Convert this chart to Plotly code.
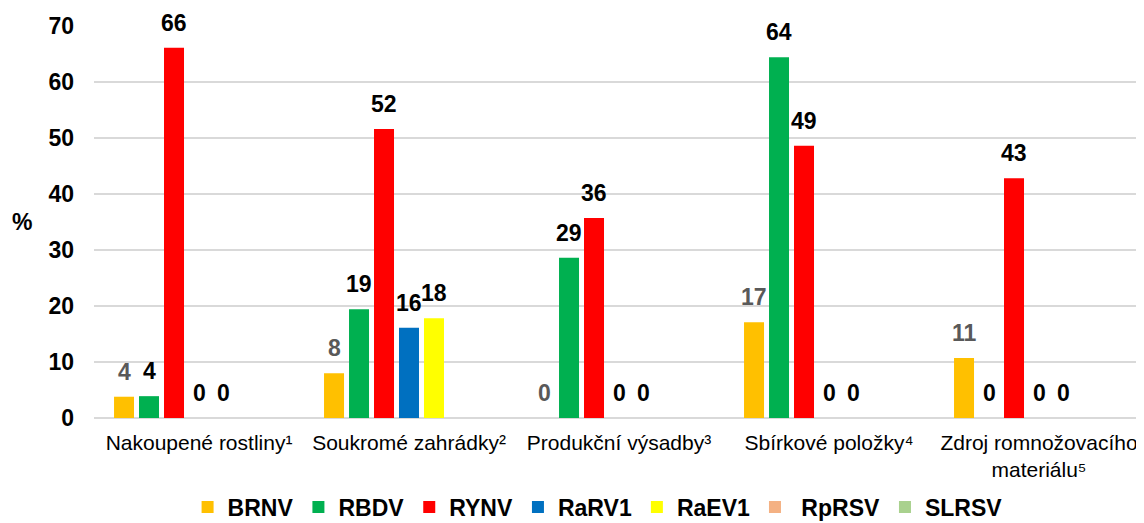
import plotly.graph_objects as go

# Categories (x axis)
categories = [
    "Nakoupené rostliny¹",
    "Soukromé zahrádky²",
    "Produkční výsadby³",
    "Sbírkové položky⁴",
    "Zdroj romnožovacího<br>materiálu⁵",
]

# Series values in % (None = no bar and no label)
brnv = [3.8, 8.0, 0, 17.1, 10.7]
rbdv = [3.9, 19.4, 28.6, 64.4, 0]
rynv = [66.1, 51.6, 35.7, 48.6, 42.8]
rarv1 = [0, 16.1, 0, 0, 0]
raev1 = [0, 17.8, 0, 0, 0]
rprsv = [None, None, None, None, None]
slrsv = [None, None, None, None, None]

series_names = ["BRNV", "RBDV", "RYNV", "RaRV1", "RaEV1", " RpRSV", "SLRSV"]
series_values = [brnv, rbdv, rynv, rarv1, raev1, rprsv, slrsv]
colors = ["#FFC000", "#00B050", "#FF0000", "#0070C0", "#FFFF00", "#F4B183", "#A9D18E"]
label_colors = ["#595959", "black", "black", "black", "black", "black", "black"]

y_ticks = [0, 10, 20, 30, 40, 50, 60, 70]

FONT = "Liberation Sans, Arial, sans-serif"
# the page body has an 8px default margin, so the figure is drawn 8px smaller
BODY = 8
WIDTH, HEIGHT = 1144 - BODY, 523 - BODY
MARGIN = dict(l=94 - BODY, r=0, t=26 - BODY, b=105)
BARGAP = 0.167
BARGROUPGAP = 0.2

fig = go.Figure()

for name, vals, col in zip(series_names, series_values, colors):
    fig.add_trace(
        go.Bar(
            x=categories,
            y=vals,
            name=name,
            marker=dict(color=col, line=dict(width=0)),
        )
    )

# bar labels above each bar (pixel offset of each bar inside its group)
plot_w = WIDTH - MARGIN["l"] - MARGIN["r"]
pitch = plot_w / len(categories) * (1 - BARGAP) / len(series_names)
n_mid = (len(series_names) - 1) / 2

annotations = []
for i, vals in enumerate(series_values):
    for cat, v in zip(categories, vals):
        if v is None:
            continue
        annotations.append(
            dict(
                x=cat,
                y=v,
                xref="x",
                yref="y",
                text=f"<b>{round(v)}</b>",
                showarrow=False,
                xanchor="center",
                yanchor="bottom",
                xshift=(i - n_mid) * pitch,
                yshift=10,
                font=dict(family=FONT, size=23, color=label_colors[i]),
            )
        )

annotations.append(
    dict(
        x=0,
        y=0.5,
        xref="paper",
        yref="paper",
        xanchor="center",
        yanchor="middle",
        xshift=-72,
        text="<b>%</b>",
        showarrow=False,
        font=dict(family=FONT, size=23, color="black"),
    )
)

fig.update_layout(
    width=WIDTH,
    height=HEIGHT,
    margin=MARGIN,
    barmode="group",
    bargap=BARGAP,
    bargroupgap=BARGROUPGAP,
    plot_bgcolor="white",
    paper_bgcolor="white",
    font=dict(family=FONT, size=21, color="black"),
    annotations=annotations,
    showlegend=True,
    legend=dict(
        orientation="h",
        xref="container",
        yref="container",
        x=0.519,
        xanchor="center",
        y=0.031,
        yanchor="middle",
        font=dict(family=FONT, size=23, color="black", weight="bold"),
        itemwidth=30,
        traceorder="normal",
    ),
    xaxis=dict(
        automargin=False,
        tickangle=0,
        tickfont=dict(family=FONT, size=21, color="#000000"),
        ticklabelstandoff=10,
        showgrid=False,
        showline=False,
        ticks="",
    ),
    yaxis=dict(
        automargin=False,
        range=[0, 70],
        tickvals=y_ticks,
        tickfont=dict(family=FONT, size=23, color="black", weight="bold"),
        ticklabelstandoff=19,
        showgrid=True,
        gridcolor="#D9D9D9",
        gridwidth=1.5,
        zeroline=True,
        zerolinecolor="#D9D9D9",
        zerolinewidth=1.5,
        showline=False,
    ),
)

fig.write_html("out.html")
